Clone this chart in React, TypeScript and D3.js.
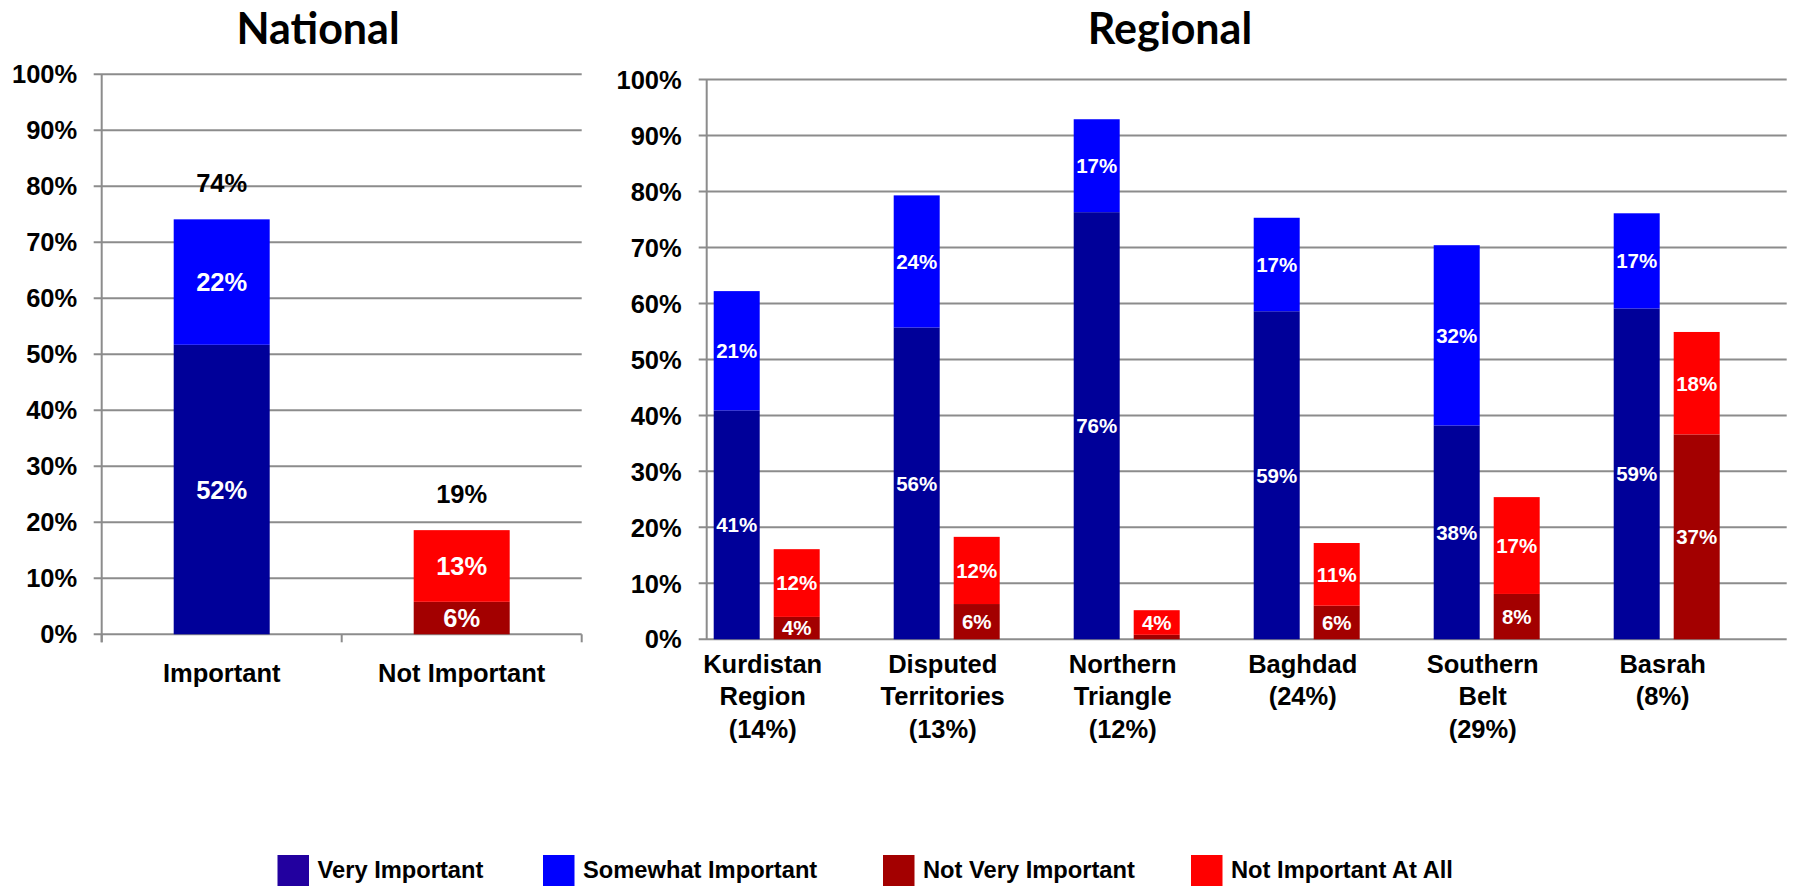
import React from "react";
import * as d3 from "d3";

// ---------- DATA ----------
const nationalCategories = ["Important", "Not Important"];
const nationalVeryImportant = [51.7, 0];
const nationalSomewhatImportant = [22.4, 0];
const nationalNotVeryImportant = [0, 5.8];
const nationalNotImportantAtAll = [0, 12.8];

const regions = ["Kurdistan", "Disputed", "Northern", "Baghdad", "Southern", "Basrah"];
const regionLabelLines = [
  ["Kurdistan", "Region", "(14%)"],
  ["Disputed", "Territories", "(13%)"],
  ["Northern", "Triangle", "(12%)"],
  ["Baghdad", "(24%)"],
  ["Southern", "Belt", "(29%)"],
  ["Basrah", "(8%)"],
];
const veryImportant = [40.9, 55.7, 76.3, 58.6, 38.2, 59.1];
const somewhatImportant = [21.3, 23.6, 16.6, 16.7, 32.2, 17.0];
const notVeryImportant = [4.0, 6.3, 0.8, 6.0, 8.1, 36.6];
const notImportantAtAll = [12.1, 12.0, 4.4, 11.2, 17.3, 18.3];

const legendLabels = ["Very Important", "Somewhat Important", "Not Very Important", "Not Important At All"];
const yTickValues = [0, 10, 20, 30, 40, 50, 60, 70, 80, 90, 100];

// ---------- STYLE ----------
const C_VERY = "#000099";
const C_SOME = "#0000ff";
const C_NOTVERY = "#a30000";
const C_NOTALL = "#ff0000";
const LEGEND_COLORS = ["#22009f", C_SOME, C_NOTVERY, C_NOTALL];
const GRID = "#8c8c8c";
const FONT = "'Liberation Sans', Arial, sans-serif";

const fmt = (v: number) => `${Math.round(v)}%`;

function Segment({ x, w, y0, y1, color, value, fontSize }: any) {
  const h = y0 - y1;
  return (
    <g>
      <rect x={x} y={y1} width={w} height={h} fill={color} />
      {value >= 2 && (
        <text
          x={x + w / 2}
          y={(y0 + y1) / 2}
          dy="0.36em"
          textAnchor="middle"
          fill="#fff"
          fontSize={fontSize}
          fontWeight="bold"
          fontFamily={FONT}
        >
          {fmt(value)}
        </text>
      )}
    </g>
  );
}

export default function App() {
  // National scales
  const yN = d3.scaleLinear().domain([0, 100]).range([634.3, 74.3]);
  const xN = d3
    .scaleBand<string>()
    .domain(nationalCategories)
    .range([101.7, 581.7])
    .paddingInner(0.6)
    .paddingOuter(0.3);
  const nLeft = 101.7;
  const nRight = 581.7;

  // Regional scales
  const yR = d3.scaleLinear().domain([0, 100]).range([639.3, 79.5]);
  const xR = d3.scaleBand<string>().domain(regions).range([706.7, 1786.7]);
  const x1 = d3
    .scaleBand<string>()
    .domain(["imp", "notImp", "gap"])
    .range([0, xR.bandwidth()])
    .paddingInner(0.2333)
    .paddingOuter(0.1167);
  const rLeft = 706.7;
  const rRight = 1786.7;

  const bigFont = 25.5;

  return (
    <svg
      width={1793}
      height={886}
      style={{ position: "absolute", left: 0, top: 0, background: "#fff" }}
    >
      <rect x={0} y={0} width={1793} height={886} fill="#fff" />
      {/* Titles */}
      <text x={318} y={44} textAnchor="middle" fontFamily="Lato, 'Liberation Sans', sans-serif" fontWeight="bold" fontSize={43}>
        National
      </text>
      <text x={1170} y={44} textAnchor="middle" fontFamily="Lato, 'Liberation Sans', sans-serif" fontWeight="bold" fontSize={43}>
        Regional
      </text>

      {/* ---------- National panel ---------- */}
      <g>
        {yTickValues.map((t) => (
          <g key={t}>
            <line x1={nLeft - 8} x2={nRight} y1={yN(t)} y2={yN(t)} stroke={GRID} strokeWidth={2} />
            <text
              x={nLeft - 24.5}
              y={yN(t)}
              dy="0.36em"
              textAnchor="end"
              fontFamily={FONT}
              fontWeight="bold"
              fontSize={bigFont}
            >
              {`${t}%`}
            </text>
          </g>
        ))}
        <line x1={nLeft} x2={nLeft} y1={yN(100)} y2={yN(0) + 8} stroke={GRID} strokeWidth={2} />
        {[0, 1, 2].map((i) => {
          const x = nLeft + i * xN.step();
          return <line key={i} x1={x} x2={x} y1={yN(0)} y2={yN(0) + 8} stroke={GRID} strokeWidth={2} />;
        })}
        {nationalCategories.map((c, i) => {
          const x = xN(c)!;
          const w = xN.bandwidth();
          const segs = [
            { v: nationalVeryImportant[i], color: C_VERY },
            { v: nationalSomewhatImportant[i], color: C_SOME },
            { v: nationalNotVeryImportant[i], color: C_NOTVERY },
            { v: nationalNotImportantAtAll[i], color: C_NOTALL },
          ];
          let acc = 0;
          const total =
            nationalVeryImportant[i] + nationalSomewhatImportant[i] + nationalNotVeryImportant[i] + nationalNotImportantAtAll[i];
          return (
            <g key={c}>
              {segs.map((s, k) => {
                if (s.v <= 0) return null;
                const y0 = yN(acc);
                acc += s.v;
                const y1 = yN(acc);
                return <Segment key={k} x={x} w={w} y0={y0} y1={y1} color={s.color} value={s.v} fontSize={bigFont} />;
              })}
              <text
                x={x + w / 2}
                y={yN(total) - 27}
                textAnchor="middle"
                fontFamily={FONT}
                fontWeight="bold"
                fontSize={bigFont}
              >
                {fmt(total)}
              </text>
              <text
                x={x + w / 2}
                y={681.7}
                textAnchor="middle"
                fontFamily={FONT}
                fontWeight="bold"
                fontSize={bigFont}
              >
                {c}
              </text>
            </g>
          );
        })}
      </g>

      {/* ---------- Regional panel ---------- */}
      <g>
        {yTickValues.map((t) => (
          <g key={t}>
            <line x1={rLeft - 8} x2={rRight} y1={yR(t)} y2={yR(t)} stroke={GRID} strokeWidth={2} />
            <text
              x={rLeft - 25}
              y={yR(t)}
              dy="0.36em"
              textAnchor="end"
              fontFamily={FONT}
              fontWeight="bold"
              fontSize={bigFont}
            >
              {`${t}%`}
            </text>
          </g>
        ))}
        <line x1={rLeft} x2={rLeft} y1={yR(100)} y2={yR(0)} stroke={GRID} strokeWidth={2} />
        {regions.map((r, i) => {
          const gx = xR(r)!;
          const w = x1.bandwidth();
          const xa = gx + x1("imp")!;
          const xb = gx + x1("notImp")!;
          const s1 = [
            { v: veryImportant[i], color: C_VERY },
            { v: somewhatImportant[i], color: C_SOME },
          ];
          const s2 = [
            { v: notVeryImportant[i], color: C_NOTVERY },
            { v: notImportantAtAll[i], color: C_NOTALL },
          ];
          const renderStack = (segs: any[], x: number) => {
            let acc = 0;
            return segs.map((s, k) => {
              const y0 = yR(acc);
              acc += s.v;
              const y1 = yR(acc);
              return <Segment key={k} x={x} w={w} y0={y0} y1={y1} color={s.color} value={s.v} fontSize={20.5} />;
            });
          };
          const cx = (xa + xb + w) / 2 - 4;
          return (
            <g key={r}>
              {renderStack(s1, xa)}
              {renderStack(s2, xb)}
              <text textAnchor="middle" fontFamily={FONT} fontWeight="bold" fontSize={bigFont}>
                {regionLabelLines[i].map((line, k) => (
                  <tspan key={k} x={cx} y={673 + k * 32.3}>
                    {line}
                  </tspan>
                ))}
              </text>
            </g>
          );
        })}
      </g>

      {/* ---------- Legend ---------- */}
      {legendLabels.map((l, i) => {
        const lx = [277.5, 543, 883, 1191][i];
        return (
          <g key={l}>
            <rect x={lx} y={855} width={31.5} height={31} fill={LEGEND_COLORS[i]} />
            <text x={lx + 40} y={877.5} fontFamily={FONT} fontWeight="bold" fontSize={23.7}>
              {l}
            </text>
          </g>
        );
      })}
    </svg>
  );
}
